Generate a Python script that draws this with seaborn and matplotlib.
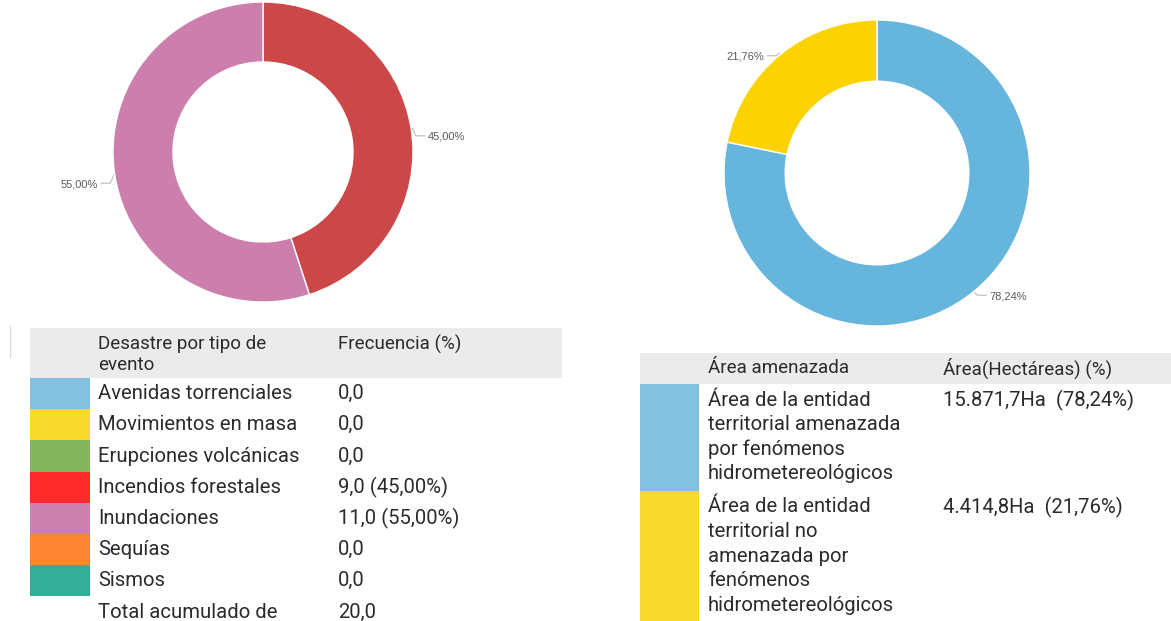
import numpy as np
import matplotlib
matplotlib.use("Agg")
import matplotlib.pyplot as plt
from matplotlib.patches import Rectangle
import seaborn as sns

# === Datos ===
desastre_tipos = ["Avenidas torrenciales", "Movimientos en masa", "Erupciones volcánicas",
                  "Incendios forestales", "Inundaciones", "Sequías", "Sismos"]
desastre_frec = [0.0, 0.0, 0.0, 9.0, 11.0, 0.0, 0.0]
desastre_colores = ["#84C1E1", "#F9D92E", "#86B560", "#FF2A2A", "#CC80AD", "#FF8533", "#33AE98"]
pie1_colores = ["#CB4748", "#CC7FAD"]   # incendios, inundaciones

area_labels = ["Área de la entidad\nterritorial amenazada\npor fenómenos\nhidrometereológicos",
               "Área de la entidad\nterritorial no\namenazada por\nfenómenos\nhidrometereológicos"]
area_ha = [15871.7, 4414.8]
area_colores = ["#84C1E1", "#F9D92E"]
pie2_colores = ["#65B5DD", "#FDD201"]

W, H = 1171, 621
TXT = "#2B2B2B"
BODY = 14.6
HEAD = 13.5


def fmt_es(v, dec=1):
    s = f"{v:,.{dec}f}"
    return s.replace(",", "X").replace(".", ",").replace("X", ".")


def Y(y):
    return H - y


def donut(ax, values, colors, cx, cy, r, label_dy):
    wedges, _ = ax.pie(values, colors=colors, startangle=90, counterclock=False,
                       radius=r, center=(cx, Y(cy)),
                       wedgeprops=dict(width=r * 0.4, edgecolor="white", linewidth=1))
    total = sum(values)
    for w, v in zip(wedges, values):
        ang = np.deg2rad((w.theta1 + w.theta2) / 2)
        c, s = np.cos(ang), np.sin(ang)
        sign = 1 if c >= 0 else -1
        x0, y0 = cx + r * 1.01 * c, Y(cy) + r * 1.01 * s
        yt = y0 - label_dy
        ax.plot([x0, x0 + 3 * sign, x0 + 12 * sign], [y0, yt + 1, yt + 1],
                color="#C8C8C8", lw=1)
        ax.text(x0 + 15 * sign, yt, fmt_es(v / total * 100, 2) + "%",
                ha="left" if sign > 0 else "right", va="center",
                fontsize=8, color="#5A5A5A", family=["Liberation Sans", "DejaVu Sans"])


sns.set_theme(style="white")
plt.rcParams["font.family"] = ["Roboto", "DejaVu Sans"]

fig = plt.figure(figsize=(W / 100, H / 100), dpi=100)
ax = fig.add_axes([0, 0, 1, 1])

# === Donas ===
vals1 = [v for v in desastre_frec if v > 0]
donut(ax, vals1, pie1_colores, 263, 152, 150, 8.5)
donut(ax, area_ha, pie2_colores, 877, 173, 153, 3.5)

# === Tabla izquierda ===
ax.add_patch(Rectangle((30, Y(378)), 532, 50, color="#EBEBEB", lw=0))
ax.plot([10, 10], [Y(325), Y(357)], color="#DDDDDD", lw=1)
ax.text(98, Y(344), "Desastre por tipo de", fontsize=HEAD, color=TXT, va="center")
ax.text(98, Y(365), "evento", fontsize=HEAD, color=TXT, va="center")
ax.text(338, Y(344), "Frecuencia (%)", fontsize=HEAD, color=TXT, va="center")

total = sum(desastre_frec)
pitch = 31.2
for i, (lab, v, col) in enumerate(zip(desastre_tipos, desastre_frec, desastre_colores)):
    top = 378 + i * pitch
    ax.add_patch(Rectangle((30, Y(top + pitch)), 60, pitch, color=col, lw=0))
    yc = Y(top + pitch / 2)
    ax.text(98, yc, lab, fontsize=BODY, color=TXT, va="center")
    val = fmt_es(v)
    if v > 0:
        val += f" ({fmt_es(v / total * 100, 2)}%)"
    ax.text(338, yc, val, fontsize=BODY, color=TXT, va="center")
yc = Y(378 + len(desastre_tipos) * pitch + pitch / 2)
ax.text(98, yc, "Total acumulado de", fontsize=BODY, color=TXT, va="center")
ax.text(338, yc, fmt_es(total), fontsize=BODY, color=TXT, va="center")

# === Tabla derecha ===
ax.add_patch(Rectangle((640, Y(384)), 531, 31, color="#EBEBEB", lw=0))
ax.text(708, Y(368), "Área amenazada", fontsize=HEAD, color=TXT, va="center")
ax.text(943, Y(368), "Área(Hectáreas) (%)", fontsize=HEAD, color=TXT, va="center")

tot_area = sum(area_ha)
line_h = 24.6
top = 384
for lab, v, col in zip(area_labels, area_ha, area_colores):
    lines = lab.split("\n")
    h = 107 if len(lines) == 4 else H - top
    ax.add_patch(Rectangle((640, Y(top + h)), 59, h, color=col, lw=0))
    for k, ln in enumerate(lines):
        ax.text(708, Y(top + 16 + k * line_h), ln, fontsize=BODY, color=TXT, va="center")
    ax.text(943, Y(top + 16), f"{fmt_es(v)}Ha  ({fmt_es(v / tot_area * 100, 2)}%)",
            fontsize=BODY, color=TXT, va="center")
    top += h

ax.set_xlim(0, W)
ax.set_ylim(0, H)
ax.set_aspect("auto")
ax.axis("off")

fig.savefig("out.png", dpi=100)
